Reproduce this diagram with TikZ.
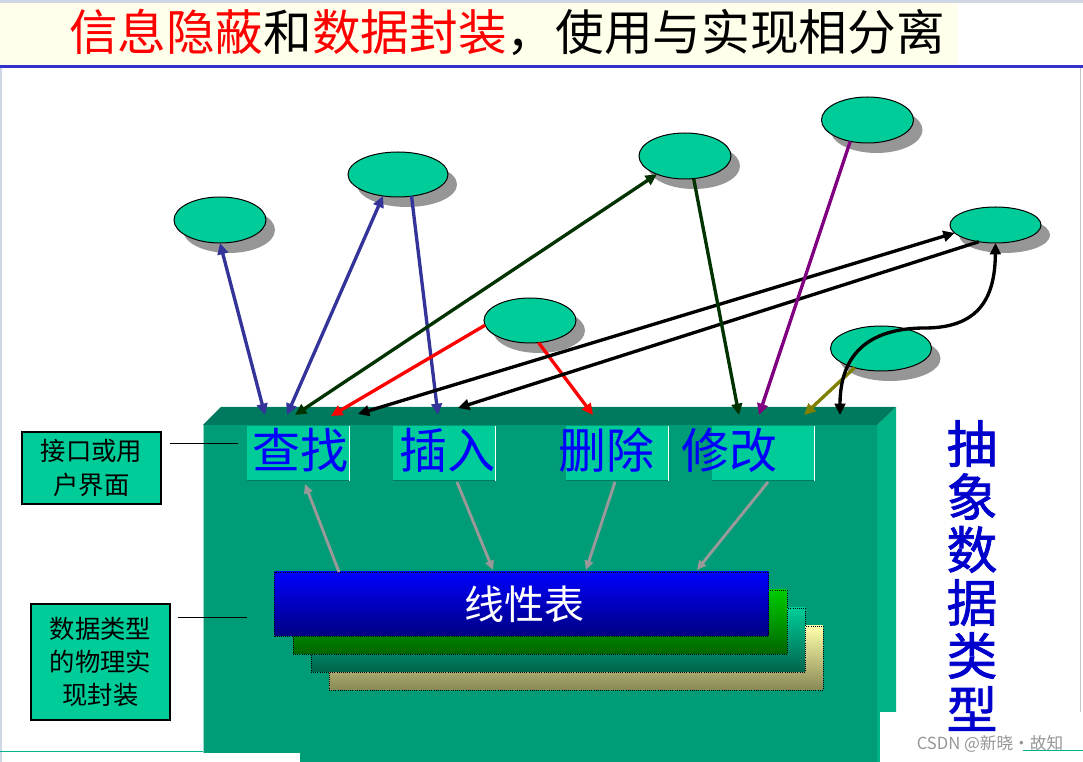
\documentclass[tikz,border=0pt]{standalone}
\usepackage{fontspec}
\newfontfamily\cjk{Noto Sans CJK SC}
\newfontfamily\cjkb[FakeBold=1.5]{Noto Sans CJK SC}
\usetikzlibrary{arrows.meta,shadows,shapes.geometric}
\definecolor{titlebg}{RGB}{255,255,236}
\definecolor{titleline}{RGB}{51,51,204}
\definecolor{edgegray}{RGB}{208,215,228}
\definecolor{boxtop}{RGB}{0,122,94}
\definecolor{boxfront}{RGB}{0,155,119}
\definecolor{boxside}{RGB}{0,179,134}
\definecolor{mint}{RGB}{0,204,153}
\definecolor{arblue}{RGB}{51,51,153}
\definecolor{ardkgreen}{RGB}{0,51,0}
\definecolor{arpurple}{RGB}{128,0,128}
\definecolor{arolive}{RGB}{128,128,0}
\definecolor{argray}{RGB}{153,153,153}
\definecolor{txtblue}{RGB}{0,0,255}
\definecolor{vblue}{RGB}{0,0,204}
\definecolor{shadowgray}{RGB}{150,150,150}
\definecolor{wmgray}{RGB}{150,150,150}
\definecolor{tealline}{RGB}{0,180,140}
\begin{document}
\begin{tikzpicture}[x=0.75pt,y=-0.75pt,
  blob/.style={ellipse, draw=black, line width=0.75pt, fill=mint, inner sep=0pt, outer sep=0pt,
    drop shadow={shadow xshift=6.75pt, shadow yshift=-7.5pt, fill=shadowgray, opacity=1}},
  arr/.style={line width=2.5pt, -{Triangle[length=8.5pt,width=8pt]}},
  darr/.style={line width=2.5pt, {Triangle[length=8.5pt,width=8pt]}-{Triangle[length=8.5pt,width=8pt]}},
  garr/.style={line width=2.2pt, argray, -{Triangle[length=7pt,width=6.5pt]}},
  ifbox/.style={rectangle, fill=mint, inner sep=0pt, outer sep=0pt, minimum width=76.5pt, minimum height=41.25pt},
  iftext/.style={inner sep=0pt, text=txtblue, font=\cjk\fontsize{36pt}{40pt}\selectfont},
  stk/.style={rectangle, draw=black, densely dotted, line width=0.6pt, inner sep=0pt, outer sep=0pt, minimum width=370.5pt, minimum height=48pt},
  lbl/.style={rectangle, draw=black, line width=0.9pt, fill=mint, inner sep=0pt, align=center, text=black},
  vchar/.style={inner sep=0pt, text=vblue, font=\cjkb\fontsize{38pt}{40pt}\selectfont},
]
\useasboundingbox (0,0) rectangle (1083,762);
\fill[white] (0,0) rectangle (1083,762);
% title band
\fill[edgegray] (0,0) rectangle (1083,3);
\fill[titlebg] (0,3) rectangle (958,65);
\draw[titleline, line width=2.25pt] (0,67) -- (1083,67);
\node[inner sep=0pt, font=\cjk\fontsize{36.5pt}{40pt}\selectfont] (title) at (507,32)
  {\textcolor{red}{信息隐蔽}和\textcolor{red}{数据封装}，使用与实现相分离};
% frame lines
\draw[edgegray, line width=1.5pt] (1,68) -- (1,762);
\draw[gray!45, line width=0.75pt] (1080,68) -- (1080,712);
\draw[tealline, line width=0.75pt] (0,752) -- (203,752);
% 3D box
\fill[boxside] (877,425) -- (896,407) -- (896,762) -- (877,762) -- cycle;
\fill[boxfront] (203,425) -- (877,425) -- (877,762) -- (300,762) -- (300,753) -- (203,753) -- cycle;
\fill[boxtop] (203,425) -- (221,407) -- (896,407) -- (877,425) -- cycle;
\draw[white!60!boxfront, line width=1pt] (203.5,425) -- (203.5,753);
% watermark background
\fill[white] (880,712) rectangle (1083,762);
\draw[tealline, line width=0.75pt] (1023,751) -- (1083,751);
% interface boxes
\node[ifbox] (ib1) at (298,453.5) {};
\node[ifbox] (ib2) at (444,453.5) {};
\node[ifbox] (ib3) at (617,453.5) {};
\node[ifbox] (ib4) at (763,453.5) {};
\foreach \b in {ib1,ib2,ib3,ib4}{
  \draw[white, line width=0.75pt] (\b.north east) -- (\b.south east);
  \draw[boxtop, line width=0.75pt] (\b.south west) -- (\b.south east);
}
\node[iftext] (tx1) at (300.5,450) {查找};
\node[iftext] (tx2) at (447.5,450) {插入};
\node[iftext] (tx3) at (606,450) {删除};
\node[iftext] (tx4) at (729,450) {修改};
% stacked layers
\node[stk, top color={rgb,255:red,255;green,255;blue,170}, bottom color={rgb,255:red,136;green,136;blue,85}] (s4) at (576,658) {};
\node[stk, top color={rgb,255:red,0;green,204;blue,153}, bottom color={rgb,255:red,0;green,100;blue,75}] (s3) at (558,640) {};
\node[stk, top color={rgb,255:red,0;green,204;blue,0}, bottom color={rgb,255:red,0;green,100;blue,0}] (s2) at (540,622) {};
\node[stk, top color={rgb,255:red,0;green,0;blue,255}, bottom color={rgb,255:red,0;green,0;blue,128}] (s1) at (521.5,604) {};
\node[inner sep=0pt, text=white, font=\cjk\fontsize{30pt}{32pt}\selectfont] (lin) at (524,604) {线性表};
% gray arrows inside box
\coordinate (g1a) at (339,572); \coordinate (g1b) at (305,484);
\coordinate (g2a) at (457,482); \coordinate (g2b) at (493,570);
\coordinate (g3a) at (615,482); \coordinate (g3b) at (586,570);
\coordinate (g4a) at (768,482); \coordinate (g4b) at (697,570);
\draw[garr] (g1a) -- (g1b);
\draw[garr] (g2a) -- (g2b);
\draw[garr] (g3a) -- (g3b);
\draw[garr] (g4a) -- (g4b);
% side labels
\node[lbl, minimum width=104.25pt, minimum height=54pt, font=\cjk\fontsize{19pt}{26pt}\selectfont] (lb1) at (91.5,468) {接口或用\\户界面};
\node[lbl, minimum width=104.25pt, minimum height=87pt, font=\cjk\fontsize{19pt}{24.5pt}\selectfont] (lb2) at (100.5,662) {数据类型\\的物理实\\现封装};
\coordinate (l1a) at (170,444); \coordinate (l1b) at (238,444);
\coordinate (l2a) at (178,618); \coordinate (l2b) at (247,618);
\draw[black, line width=0.75pt] (l1a) -- (l1b);
\draw[black, line width=0.75pt] (l2a) -- (l2b);
% vertical title
\node[vchar] (v1) at (972,443.5) {抽};
\node[vchar] (v2) at (972,496.5) {象};
\node[vchar] (v3) at (972,549.5) {数};
\node[vchar] (v4) at (972,602.5) {据};
\node[vchar] (v5) at (972,655.5) {类};
\node[vchar] (v6) at (972,708.5) {型};
% ellipses
\node[blob, minimum width=69pt, minimum height=34.5pt] (e1) at (220,220) {};
\node[blob, minimum width=75pt, minimum height=33.75pt] (e2) at (398,174.5) {};
\node[blob, minimum width=69pt, minimum height=34.5pt] (e3) at (685,156) {};
\node[blob, minimum width=69pt, minimum height=34.5pt] (e4) at (867.5,120) {};
\node[blob, minimum width=68.25pt, minimum height=27pt] (e5) at (995.5,225) {};
\node[blob, minimum width=69pt, minimum height=33.75pt] (e6) at (530,320.5) {};
\node[blob, minimum width=75.75pt, minimum height=33.75pt] (e7) at (881,348.5) {};
% arrow ends on the box top
\coordinate (t1) at (265,415);
\coordinate (t2) at (287,415);
\coordinate (t3) at (438,415);
\coordinate (t4) at (295,415);
\coordinate (t5) at (331,416);
\coordinate (t6) at (593,415);
\coordinate (t7) at (358,414);
\coordinate (t8) at (458,408);
\coordinate (t9) at (739,415);
\coordinate (t10) at (759,415);
\coordinate (t11) at (804,415);
\coordinate (t12) at (840,415);
\coordinate (cm) at (925,328);
% arrows
\draw[darr, arblue] (e1.270) -- (t1);
\draw[darr, arblue] (e2.235) -- (t2);
\draw[arr, arblue] (e2.302) -- (t3);
\draw[darr, ardkgreen] (t4) -- (e3.213);
\draw[arr, red] (e6.186) -- (t5);
\draw[arr, red] (e6.291) -- (t6);
\draw[darr, black] (t7) -- (e5.191);
\draw[arr, black] (e5.225) -- (t8);
\draw[arr, ardkgreen] (e3.291) -- (t9);
\draw[arr, arpurple] (e4.231) -- (t10);
\draw[arr, arolive] (e7.216) -- (t11);
\draw[darr, black] (t12) .. controls (840,345) and (880,328) .. (cm) .. controls (985,328) and (995,290) .. (e5.270);
% watermark text
\node[inner sep=0pt, text=wmgray, font=\cjk\fontsize{12.5pt}{14pt}\selectfont] (wm) at (990,744) {CSDN @新晓·故知};
\end{tikzpicture}
\end{document}
